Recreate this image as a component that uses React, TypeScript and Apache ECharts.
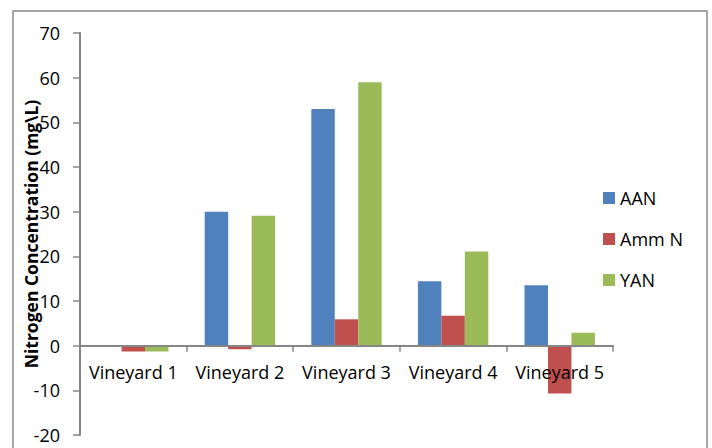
import React, { useEffect, useRef } from "react";
import * as echarts from "echarts";

const categories = ["Vineyard 1", "Vineyard 2", "Vineyard 3", "Vineyard 4", "Vineyard 5"];
const aan = [0, 30.0, 53.0, 14.4, 13.5];
const ammN = [-1.3, -0.8, 5.9, 6.7, -10.7];
const yan = [-1.3, 29.1, 59.0, 21.1, 2.9];

const FONT = "Open Sans";
const AXIS_GRAY = "#868686";

export default function App() {
  const ref = useRef<HTMLDivElement>(null);

  useEffect(() => {
    if (!ref.current) return;
    const chart = echarts.init(ref.current, undefined, { renderer: "svg" });
    chart.setOption({
      animation: false,
      backgroundColor: "#ffffff",
      textStyle: { fontFamily: FONT },
      graphic: [
        {
          type: "rect",
          shape: { x: 13, y: 11, width: 694, height: 500 },
          style: { fill: "none", stroke: "#8c8c8c", lineWidth: 1.5 },
          silent: true,
        },
      ],
      grid: { left: 80, right: 99, top: 33, bottom: 13, containLabel: false, outerBoundsMode: "none" },
      legend: {
        orient: "vertical",
        left: 598,
        top: 183,
        itemWidth: 12,
        itemHeight: 12,
        itemGap: 21,
        icon: "rect",
        textStyle: { fontFamily: FONT, fontSize: 18, color: "#000", lineHeight: 20, padding: [0, 0, 0, 0] },
        data: ["AAN", "Amm N", "YAN"],
      },
      xAxis: {
        type: "category",
        data: categories,
        z: 5,
        axisLine: { onZero: true, lineStyle: { color: AXIS_GRAY, width: 2 } },
        axisTick: { show: true, length: 6, alignWithLabel: false, lineStyle: { color: AXIS_GRAY, width: 1.5 } },
        // labels sit just under the zero line rather than at the grid bottom
        axisLabel: { fontFamily: FONT, fontSize: 18, color: "#000", margin: -72, interval: 0, hideOverlap: false },
        splitLine: { show: false },
      },
      yAxis: {
        type: "value",
        min: -20,
        max: 70,
        interval: 10,
        name: "Nitrogen Concentration (mg\\L)",
        nameLocation: "middle",
        nameGap: 40,
        nameMoveOverlap: false,
        nameTextStyle: { fontFamily: FONT, fontSize: 17.5, fontWeight: "bold", color: "#000" },
        axisLine: { show: true, lineStyle: { color: AXIS_GRAY, width: 2 } },
        axisTick: { show: true, length: 7, lineStyle: { color: AXIS_GRAY, width: 1.5 } },
        axisLabel: { fontFamily: FONT, fontSize: 18, color: "#000", margin: 20 },
        splitLine: { show: false },
      },
      series: [
        {
          name: "AAN",
          type: "bar",
          data: aan,
          barGap: "0%",
          barCategoryGap: "34%",
          itemStyle: { color: "#4F81BD" },
        },
        {
          name: "Amm N",
          type: "bar",
          data: ammN,
          itemStyle: { color: "#C0504D" },
        },
        {
          name: "YAN",
          type: "bar",
          data: yan,
          itemStyle: { color: "#9BBB59" },
        },
      ],
    });
    return () => chart.dispose();
  }, []);

  return <div ref={ref} style={{ width: 712, height: 448, position: "absolute", left: 0, top: 0 }} />;
}
